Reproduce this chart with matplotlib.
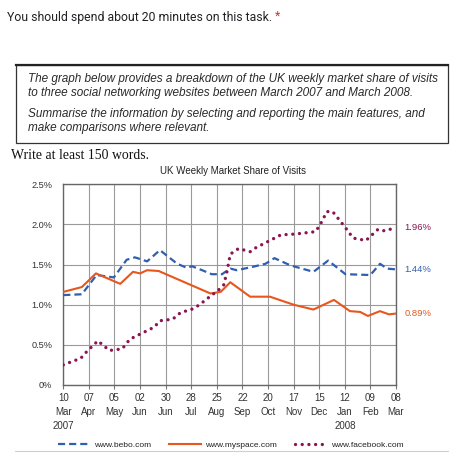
import matplotlib
matplotlib.use("Agg")
import matplotlib.pyplot as plt
from matplotlib.patches import Rectangle
from matplotlib.lines import Line2D
from matplotlib.text import Annotation

# ---- data (weeks since 10 Mar 2007, market share in %) ----
tick_weeks = [0, 4, 8, 12, 16, 20, 24, 28, 32, 36, 40, 44, 48, 52]
tick_labels = ["10\nMar\n2007", "07\nApr", "05\nMay", "02\nJun", "30\nJun", "28\nJul",
               "25\nAug", "22\nSep", "20\nOct", "17\nNov", "15\nDec", "12\nJan\n2008",
               "09\nFeb", "08\nMar"]

bebo_weeks = [0, 2.9, 5.2, 7.9, 9.9, 11.2, 13.1, 15.1, 17.8, 19.3, 20.1, 21.7, 23.2,
              24.8, 26.1, 27.1, 29.5, 31.6, 33.0, 35.5, 39.1, 41.4, 44.1, 48.0, 49.5,
              50.6, 52]
bebo_share = [1.12, 1.13, 1.37, 1.34, 1.56, 1.59, 1.54, 1.68, 1.51, 1.46, 1.48, 1.43,
              1.38, 1.38, 1.45, 1.43, 1.47, 1.51, 1.58, 1.49, 1.41, 1.55, 1.38, 1.37,
              1.51, 1.45, 1.44]

myspace_weeks = [0, 2.9, 5.1, 8.9, 10.9, 12.0, 13.1, 14.9, 23.0, 24.6, 26.1, 29.2,
                 32.3, 36.0, 39.1, 42.3, 44.8, 46.4, 47.6, 49.5, 50.9, 52]
myspace_share = [1.16, 1.22, 1.39, 1.26, 1.41, 1.39, 1.43, 1.42, 1.14, 1.16, 1.28, 1.10,
                 1.10, 1.00, 0.94, 1.06, 0.92, 0.91, 0.86, 0.92, 0.88, 0.89]

facebook_weeks = [0, 1.6, 2.7, 3.6, 4.5, 5.4, 6.3, 7.2, 9.2, 10.4, 11.4, 14.2, 15.1,
                  17.1, 18.3, 20.3, 21.3, 23.2, 24.1, 25.1, 25.6, 26.1, 27.4, 28.3,
                  29.2, 30.1, 34.0, 36.2, 39.4, 40.1, 41.2, 42.1, 44.0, 45.3, 47.3,
                  49.2, 50.2, 52]
facebook_share = [0.25, 0.30, 0.33, 0.41, 0.48, 0.55, 0.49, 0.43, 0.45, 0.57, 0.61,
                  0.72, 0.80, 0.82, 0.90, 0.95, 1.00, 1.12, 1.17, 1.25, 1.42, 1.63,
                  1.70, 1.68, 1.66, 1.71, 1.87, 1.88, 1.91, 1.99, 2.16, 2.16, 1.97,
                  1.83, 1.80, 1.94, 1.92, 1.96]

c_bebo = "#2f5fae"
c_myspace = "#e8561e"
c_facebook = "#8a1550"

chart_font = ["Liberation Sans Narrow", "Liberation Sans", "DejaVu Sans"]

fig = plt.figure(figsize=(4.63, 4.63), dpi=100)
W = H = 463.0


def fx(px):
    return px / W


def fy(py):
    return 1 - py / H


# header texts
t1 = fig.text(fx(7), fy(17), "You should spend about 20 minutes on this task.",
              fontsize=8.8, color="#202124", family=["Roboto", "DejaVu Sans"],
              va="center", ha="left")
star = Annotation(" *", xy=(1, 0.5), xycoords=t1, fontsize=8.8, color="#d93025",
                  family=["Roboto", "DejaVu Sans"], va="center", ha="left")
fig.add_artist(star)

fig.patches.append(Rectangle((fx(16), fy(143)), fx(432), 78 / H, transform=fig.transFigure,
                             fill=False, edgecolor="#333333", linewidth=0.9))
fig.add_artist(Line2D([fx(16), fx(448)], [fy(65), fy(65)], color="#222222", linewidth=1.6))

box_lines = [
    (79, "The graph below provides a breakdown of the UK weekly market share of visits"),
    (93, "to three social networking websites between March 2007 and March 2008."),
    (114, "Summarise the information by selecting and reporting the main features, and"),
    (128, "make comparisons where relevant."),
]
for yy, s in box_lines:
    fig.text(fx(28), fy(yy), s, fontsize=8.5, style="italic", color="#2a2a2a",
             family=["Liberation Sans", "DejaVu Sans"], va="center", ha="left")

fig.text(fx(11), fy(155), "Write at least 150 words.", fontsize=9.9, color="#111111",
         family=["Liberation Serif", "DejaVu Serif"], va="center", ha="left")

fig.text(fx(233), fy(171), "UK Weekly Market Share of Visits", fontsize=7,
         color="#222222", family=chart_font, va="center", ha="center")

# ---- chart ----
ax = fig.add_axes([fx(63.3), fy(385), (396 - 63.3) / W, (385 - 184.3) / H])

ax.plot(bebo_weeks, bebo_share, color=c_bebo, linewidth=1.6,
        linestyle=(0, (3.2, 1.8)), label="www.bebo.com", zorder=3)
ax.plot(myspace_weeks, myspace_share, color=c_myspace, linewidth=1.5,
        label="www.myspace.com", zorder=3)
ax.plot(facebook_weeks, facebook_share, color=c_facebook, linewidth=2.4,
        linestyle=(0, (0.01, 2.0)), dash_capstyle="round",
        label="www.facebook.com", zorder=3)

ax.set_xlim(0, 52)
ax.set_ylim(0, 2.5)
ax.set_xticks(tick_weeks)
ax.set_xticklabels(tick_labels, fontsize=7, family=chart_font, color="#333333",
                   linespacing=1.5)
ax.set_yticks([0, 0.5, 1.0, 1.5, 2.0, 2.5])
ax.set_yticklabels(["0%", "0.5%", "1.0%", "1.5%", "2.0%", "2.5%"], fontsize=6.6,
                   family=chart_font, color="#333333")
ax.tick_params(axis="x", length=3, color="#777777", pad=3)
ax.tick_params(axis="y", length=0, pad=8)
ax.grid(True, color="#9a9a9a", linewidth=0.8)
ax.set_axisbelow(True)
for sp in ax.spines.values():
    sp.set_color("#666666")
    sp.set_linewidth(1.0)

for series, col in [(facebook_share, c_facebook), (bebo_share, c_bebo),
                    (myspace_share, c_myspace)]:
    ax.annotate(f"{series[-1]:.2f}%", xy=(52, series[-1]), xytext=(6, 0),
                textcoords="offset points", fontsize=6.8, color=col,
                family=chart_font, va="center", ha="left", annotation_clip=False)

leg = fig.legend(loc="center left", bbox_to_anchor=(fx(58), fy(445)), ncol=3,
                 frameon=False, handlelength=3.8, handletextpad=0.5,
                 columnspacing=2.2, borderpad=0, borderaxespad=0,
                 prop={"family": chart_font, "size": 6})
for txt in leg.get_texts():
    txt.set_color("#222222")

fig.add_artist(Line2D([fx(15), fx(448)], [fy(451), fy(451)], color="#cfcfcf", linewidth=0.8))

plt.savefig("out.png", dpi=100)
